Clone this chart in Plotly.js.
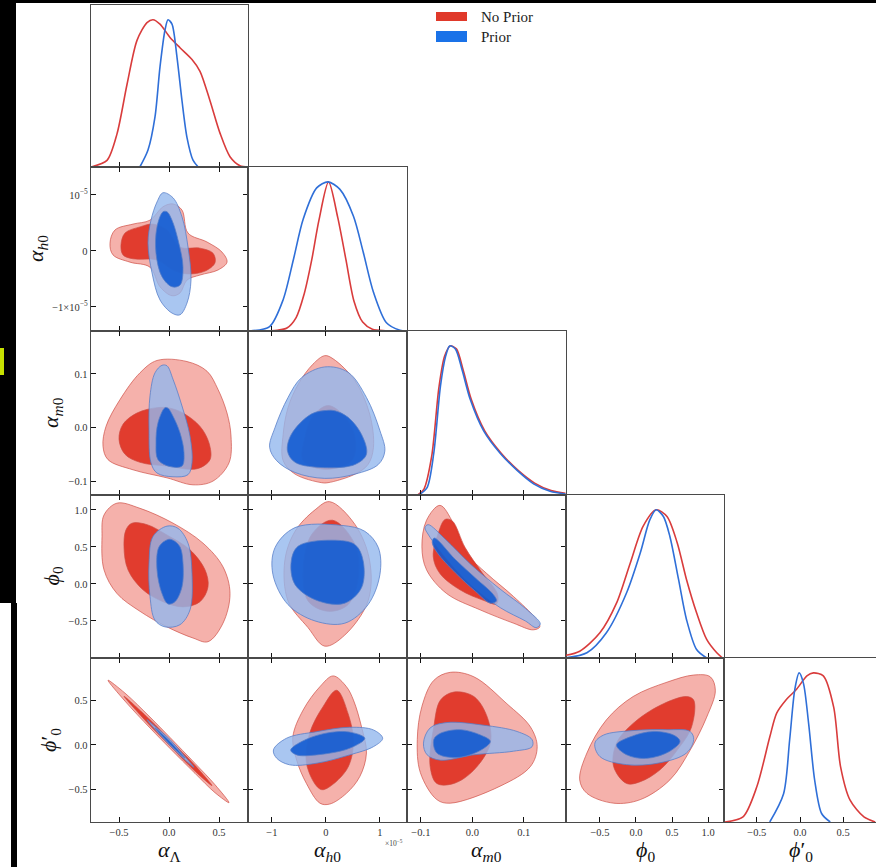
<!DOCTYPE html>
<html>
<head>
<meta charset="utf-8">
<script src="https://cdn.plot.ly/plotly-3.0.1.min.js"></script>
<style>html,body{margin:0;padding:0;background:#fff;}#plot{width:876px;height:867px;}</style>
</head>
<body>
<div id="plot"></div>
<script>
// ---------------- DATA ----------------
const paramLabels = ['<i>α</i><sub>Λ</sub>', '<i>α</i><sub><i>h</i>0</sub>', '<i>α</i><sub><i>m</i>0</sub>', '<i>ϕ</i><sub>0</sub>', '<i>ϕ</i>′<sub>0</sub>'];
const seriesNames = ['No Prior', 'Prior'];

const tickVals = [[-0.5,0,0.5],[-1,0,1],[-0.1,0,0.1],[-0.5,0,0.5,1.0],[-0.5,0,0.5]];
const xTickText = [['−0.5','0.0','0.5'],['−1','0','1'],['−0.1','0.0','0.1'],['−0.5','0.0','0.5','1.0'],['−0.5','0.0','0.5']];
const yTickText = [null,['−1×10<sup>−5</sup>','0','10<sup>−5</sup>'],['−0.1','0.0','0.1'],['−0.5','0.0','0.5','1.0'],['−0.5','0.0','0.5']];

// 1D marginals (normalised density)
const aL_noPrior_x = [-0.77,-0.62,-0.52,-0.42,-0.32,-0.22,-0.16,-0.09,0.01,0.11,0.23,0.31,0.41,0.51,0.61,0.71,0.79];
const aL_noPrior_p = [0.002,0.045,0.225,0.56,0.86,0.98,1.0,0.97,0.88,0.81,0.73,0.65,0.45,0.23,0.07,0.009,0.002];
const aL_prior_x = [-0.29,-0.21,-0.14,-0.09,-0.04,-0.01,0.03,0.08,0.13,0.18,0.24,0.29];
const aL_prior_p = [0.002,0.115,0.34,0.68,0.93,1.0,0.97,0.745,0.45,0.20,0.047,0.002];

const aH_noPrior_x = [-1.22,-0.9,-0.72,-0.55,-0.40,-0.26,-0.13,0.05,0.22,0.37,0.52,0.68,0.86,1.1,1.37];
const aH_noPrior_p = [0,0.005,0.02,0.09,0.25,0.48,0.74,1.0,0.76,0.48,0.2,0.06,0.012,0.002,0];
const aH_prior_x = [-1.41,-1.04,-0.79,-0.60,-0.42,-0.17,0.04,0.26,0.51,0.69,0.88,1.12,1.37,1.49];
const aH_prior_p = [0,0.03,0.21,0.48,0.75,0.96,1.0,0.95,0.77,0.53,0.26,0.055,0.005,0];

const aM_noPrior_x = [-0.106,-0.094,-0.079,-0.065,-0.054,-0.043,-0.031,-0.018,-0.002,0.024,0.056,0.089,0.121,0.153,0.181];
const aM_noPrior_p = [0,0.04,0.26,0.72,0.93,1.0,0.98,0.84,0.64,0.43,0.28,0.165,0.08,0.03,0.012];
const aM_prior_x = [-0.104,-0.088,-0.075,-0.062,-0.052,-0.044,-0.033,-0.020,-0.004,0.022,0.054,0.087,0.119,0.151,0.181];
const aM_prior_p = [0,0.05,0.28,0.73,0.93,1.0,0.98,0.84,0.64,0.43,0.28,0.165,0.075,0.025,0.007];

const p0_noPrior_x = [-0.99,-0.78,-0.50,-0.27,-0.08,0.10,0.28,0.43,0.57,0.70,0.84,0.98,1.12,1.20];
const p0_noPrior_p = [0.017,0.046,0.17,0.37,0.64,0.89,1.0,0.955,0.78,0.53,0.305,0.125,0.035,0];
const p0_prior_x = [-0.99,-0.68,-0.41,-0.13,0.06,0.19,0.28,0.38,0.47,0.59,0.70,0.84,0.98];
const p0_prior_p = [0,0.035,0.17,0.44,0.71,0.93,1.0,0.955,0.82,0.53,0.26,0.057,0];

const p1_noPrior_x = [-0.87,-0.66,-0.50,-0.35,-0.27,-0.16,-0.04,0.08,0.155,0.27,0.39,0.47,0.58,0.74,0.87];
const p1_noPrior_p = [0,0.034,0.236,0.57,0.73,0.82,0.89,0.98,1.0,0.98,0.77,0.37,0.146,0.034,0];
const p1_prior_x = [-0.35,-0.19,-0.12,-0.06,-0.01,0.04,0.10,0.17,0.25,0.35];
const p1_prior_p = [0,0.19,0.55,0.89,1.0,0.93,0.66,0.28,0.057,0];

// 2D contour outlines [x, y] (outer = 95%, inner = 68%)
const aH_aL_noPrior_outer = [[-0.59,0.14],[-0.54,0.375],[-0.36,0.48],[-0.19,0.55],[-0.06,0.79],[0.04,0.84],[0.13,0.73],[0.19,0.32],[0.38,0.16],[0.53,-0.02],[0.58,-0.2],[0.49,-0.34],[0.31,-0.43],[0.18,-0.52],[0.11,-0.75],[0.03,-0.80],[-0.09,-0.64],[-0.19,-0.29],[-0.39,-0.2],[-0.56,-0.07]];
const aH_aL_noPrior_inner = [[-0.48,0.11],[-0.44,0.32],[-0.29,0.43],[-0.16,0.48],[-0.02,0.375],[0.11,0.07],[0.31,0.05],[0.44,-0.04],[0.46,-0.21],[0.36,-0.36],[0.18,-0.41],[0.04,-0.34],[-0.12,-0.16],[-0.36,-0.14],[-0.46,-0.07]];
const aH_aL_prior_outer = [[-0.06,1.04],[-0.12,0.875],[-0.18,0.55],[-0.21,0.14],[-0.17,-0.39],[-0.09,-0.875],[0.03,-1.11],[0.11,-1.14],[0.18,-0.93],[0.22,-0.52],[0.19,0.07],[0.13,0.61],[0.04,0.95]];
const aH_aL_prior_inner = [[-0.06,0.70],[-0.12,0.43],[-0.13,-0.04],[-0.07,-0.46],[0.03,-0.64],[0.11,-0.61],[0.14,-0.29],[0.09,0.2],[0.03,0.55],[-0.02,0.70]];
const aM_aL_noPrior_outer = [[-0.12,0.125],[-0.29,0.102],[-0.49,0.052],[-0.63,0.002],[-0.66,-0.035],[-0.61,-0.06],[-0.36,-0.079],[-0.02,-0.094],[0.24,-0.107],[0.44,-0.100],[0.60,-0.066],[0.62,-0.016],[0.58,0.027],[0.49,0.071],[0.38,0.105],[0.18,0.123]];
const aM_aL_noPrior_inner = [[-0.12,0.037],[-0.32,0.027],[-0.46,0.006],[-0.50,-0.022],[-0.44,-0.050],[-0.29,-0.065],[-0.02,-0.072],[0.28,-0.077],[0.41,-0.060],[0.40,-0.029],[0.31,0.002],[0.14,0.027],[0.01,0.036]];
const aM_aL_prior_outer = [[-0.07,0.116],[-0.14,0.102],[-0.19,0.059],[-0.20,-0.004],[-0.18,-0.066],[-0.12,-0.085],[0.04,-0.092],[0.19,-0.088],[0.23,-0.066],[0.21,-0.016],[0.13,0.040],[0.04,0.090],[-0.02,0.115]];
const aM_aL_prior_inner = [[-0.04,0.037],[-0.11,0.009],[-0.13,-0.029],[-0.11,-0.060],[0.01,-0.073],[0.13,-0.072],[0.15,-0.047],[0.11,-0.010],[0.04,0.021],[-0.01,0.036]];
const p0_aL_noPrior_outer = [[-0.52,1.09],[-0.29,1.02],[0.04,0.82],[0.34,0.55],[0.54,0.23],[0.61,-0.13],[0.54,-0.53],[0.39,-0.78],[0.24,-0.73],[-0.02,-0.58],[-0.29,-0.37],[-0.52,-0.13],[-0.65,0.19],[-0.67,0.64],[-0.65,0.93]];
const p0_aL_noPrior_inner = [[-0.37,0.82],[-0.22,0.80],[-0.02,0.66],[0.21,0.46],[0.36,0.19],[0.39,-0.04],[0.31,-0.24],[0.14,-0.31],[-0.06,-0.24],[-0.26,-0.08],[-0.41,0.19],[-0.45,0.50],[-0.43,0.73]];
const p0_aL_prior_outer = [[-0.02,0.78],[-0.16,0.64],[-0.20,0.28],[-0.19,-0.17],[-0.14,-0.49],[-0.04,-0.58],[0.11,-0.55],[0.21,-0.35],[0.23,0.14],[0.19,0.55],[0.09,0.75]];
const p0_aL_prior_inner = [[-0.01,0.60],[-0.10,0.50],[-0.12,0.19],[-0.07,-0.13],[-0.01,-0.27],[0.06,-0.24],[0.13,-0.04],[0.14,0.28],[0.11,0.50],[0.04,0.59]];
const p1_aL_noPrior_outer = [[-0.61,0.722],[-0.44,0.578],[-0.19,0.311],[0.01,0.083],[0.26,-0.206],[0.46,-0.444],[0.60,-0.644],[0.46,-0.533],[0.26,-0.317],[0.01,-0.039],[-0.19,0.189],[-0.44,0.489]];
const p1_aL_noPrior_inner = [[-0.45,0.543],[-0.19,0.282],[0.01,0.056],[0.26,-0.228],[0.43,-0.454],[0.26,-0.294],[0.01,-0.011],[-0.19,0.216]];
const p1_aL_prior_outer = [[-0.22,0.282],[-0.11,0.18],[0.01,0.061],[0.13,-0.092],[0.25,-0.25],[0.13,-0.137],[0.01,-0.006],[-0.11,0.136]];
const p1_aL_prior_inner = [[-0.14,0.192],[0.01,0.039],[0.16,-0.148],[0.01,0.006]];
const aM_aH_noPrior_outer = [[-0.02,0.134],[0.135,0.128],[0.54,0.087],[0.81,0.025],[0.88,-0.037],[0.78,-0.069],[0.54,-0.087],[0.04,-0.103],[-0.08,-0.103],[-0.57,-0.087],[-0.79,-0.062],[-0.79,-0.013],[-0.70,0.037],[-0.51,0.081],[-0.24,0.118]];
const aM_aH_noPrior_inner = [[0.04,0.041],[-0.25,0.02],[-0.39,-0.019],[-0.42,-0.062],[-0.02,-0.078],[0.48,-0.062],[0.54,-0.019],[0.35,0.02]];
const aM_aH_prior_outer = [[-1.04,-0.037],[-0.94,0],[-0.70,0.056],[-0.45,0.093],[-0.02,0.113],[0.41,0.103],[0.75,0.056],[1.00,-0.006],[1.09,-0.044],[0.97,-0.069],[0.54,-0.087],[-0.02,-0.095],[-0.57,-0.084],[-0.91,-0.062]];
const aM_aH_prior_inner = [[0.04,0.032],[-0.27,0.025],[-0.64,-0.013],[-0.71,-0.044],[-0.57,-0.065],[-0.02,-0.075],[0.54,-0.069],[0.75,-0.050],[0.66,-0.013],[0.41,0.019],[0.17,0.031]];
const p0_aH_noPrior_outer = [[0.07,1.11],[0.54,0.80],[0.81,0.31],[0.78,-0.23],[0.35,-0.69],[-0.02,-0.84],[-0.33,-0.59],[-0.70,-0.23],[-0.76,0.31],[-0.57,0.71],[-0.20,1.00]];
const p0_aH_noPrior_inner = [[0.12,0.86],[0.54,0.53],[0.60,0.08],[0.41,-0.28],[0.04,-0.37],[-0.33,-0.23],[-0.42,0.22],[-0.26,0.67]];
const p0_aH_prior_outer = [[0.29,0.79],[-0.57,0.76],[-0.94,0.49],[-0.98,0.13],[-0.70,-0.28],[-0.20,-0.50],[0.35,-0.53],[0.78,-0.28],[1.00,0.13],[0.97,0.49],[0.72,0.71]];
const p0_aH_prior_inner = [[0.11,0.59],[-0.51,0.51],[-0.64,0.31],[-0.57,-0.01],[-0.14,-0.23],[0.35,-0.26],[0.66,-0.05],[0.69,0.31],[0.54,0.53]];
const p1_aH_noPrior_outer = [[0.135,0.77],[0.38,0.65],[0.51,0.50],[0.66,0.20],[0.75,-0.09],[0.63,-0.35],[0.38,-0.54],[0.07,-0.66],[-0.11,-0.65],[-0.36,-0.43],[-0.54,-0.17],[-0.61,0.09],[-0.42,0.39],[-0.11,0.65]];
const p1_aH_noPrior_inner = [[0.20,0.61],[0.41,0.35],[0.51,0.02],[0.38,-0.28],[-0.05,-0.50],[-0.17,-0.46],[-0.36,-0.20],[-0.30,0.13],[-0.05,0.43]];
const p1_aH_prior_outer = [[-0.97,-0.056],[-0.73,0.074],[-0.17,0.148],[0.44,0.197],[0.88,0.167],[1.05,0.074],[0.88,-0.019],[0.44,-0.111],[-0.17,-0.204],[-0.67,-0.222],[-0.91,-0.148]];
const p1_aH_prior_inner = [[-0.65,-0.056],[-0.24,0.092],[0.38,0.148],[0.72,0.074],[0.44,-0.037],[-0.17,-0.111],[-0.54,-0.111]];
const p0_aM_noPrior_outer = [[-0.063,1.06],[-0.089,0.86],[-0.098,0.50],[-0.089,0.19],[-0.050,-0.13],[0.015,-0.35],[0.080,-0.53],[0.118,-0.62],[0.131,-0.58],[0.122,-0.46],[0.080,-0.17],[0.028,0.14],[-0.011,0.41],[-0.037,0.82]];
const p0_aM_noPrior_inner = [[-0.053,0.87],[-0.066,0.69],[-0.076,0.37],[-0.063,0.14],[-0.024,-0.08],[0.021,-0.22],[0.047,-0.27],[0.049,-0.14],[0.019,0.15],[-0.014,0.49],[-0.039,0.85]];
const p0_aM_prior_outer = [[-0.086,0.80],[-0.052,0.60],[-0.004,0.27],[0.054,-0.07],[0.103,-0.33],[0.132,-0.54],[0.124,-0.59],[0.103,-0.50],[0.054,-0.32],[-0.004,-0.01],[-0.052,0.35],[-0.085,0.66],[-0.092,0.76]];
const p0_aM_prior_inner = [[-0.074,0.62],[-0.033,0.33],[0.006,0.08],[0.041,-0.145],[0.047,-0.23],[0.035,-0.26],[0.006,-0.10],[-0.033,0.15],[-0.068,0.42],[-0.078,0.56]];
const p1_aM_noPrior_outer = [[-0.043,0.81],[0.003,0.76],[0.067,0.46],[0.113,0.20],[0.126,-0.02],[0.113,-0.24],[0.054,-0.46],[-0.043,-0.65],[-0.069,-0.61],[-0.101,-0.31],[-0.107,0.06],[-0.098,0.43],[-0.075,0.72]];
const p1_aM_noPrior_inner = [[-0.036,0.59],[-0.062,0.50],[-0.075,0.20],[-0.082,-0.24],[-0.069,-0.43],[-0.036,-0.43],[0.003,-0.28],[0.035,0.02],[0.029,0.31],[0.003,0.54]];
const p1_aM_prior_outer = [[-0.095,0.02],[-0.082,0.19],[-0.049,0.25],[0.022,0.22],[0.087,0.15],[0.116,0.06],[0.116,-0.02],[0.080,-0.07],[0.003,-0.11],[-0.062,-0.17],[-0.088,-0.11]];
const p1_aM_prior_inner = [[-0.075,0.06],[-0.062,0.13],[-0.023,0.17],[0.016,0.11],[0.035,0.04],[0.016,-0.06],[-0.030,-0.14],[-0.069,-0.09]];
const p1_p0_noPrior_outer = [[0.80,0.78],[1.03,0.76],[1.10,0.61],[0.98,0.31],[0.75,-0.06],[0.47,-0.39],[0.06,-0.61],[-0.31,-0.65],[-0.68,-0.54],[-0.78,-0.39],[-0.68,-0.09],[-0.41,0.28],[-0.04,0.54],[0.43,0.70]];
const p1_p0_noPrior_inner = [[0.70,0.54],[0.80,0.50],[0.77,0.20],[0.57,-0.06],[0.33,-0.28],[0.06,-0.41],[-0.13,-0.43],[-0.31,-0.24],[-0.27,0.02],[-0.04,0.24],[0.33,0.44]];
const p1_p0_prior_outer = [[-0.57,0.02],[-0.45,0.11],[-0.04,0.16],[0.43,0.17],[0.75,0.15],[0.80,0.06],[0.70,-0.09],[0.33,-0.20],[-0.13,-0.22],[-0.50,-0.13]];
const p1_p0_prior_inner = [[-0.27,0.0],[-0.08,0.09],[0.24,0.15],[0.52,0.11],[0.61,0.04],[0.47,-0.07],[0.15,-0.15],[-0.13,-0.11]];

// ---------------- STRUCTURE ----------------
const diagSets = [
  {c:0, nx:aL_noPrior_x, np:aL_noPrior_p, px:aL_prior_x, pp:aL_prior_p},
  {c:1, nx:aH_noPrior_x, np:aH_noPrior_p, px:aH_prior_x, pp:aH_prior_p},
  {c:2, nx:aM_noPrior_x, np:aM_noPrior_p, px:aM_prior_x, pp:aM_prior_p},
  {c:3, nx:p0_noPrior_x, np:p0_noPrior_p, px:p0_prior_x, pp:p0_prior_p},
  {c:4, nx:p1_noPrior_x, np:p1_noPrior_p, px:p1_prior_x, pp:p1_prior_p}
];
const contourSets = [
  {r:1,c:0, no:[aH_aL_noPrior_outer,aH_aL_noPrior_inner], pr:[aH_aL_prior_outer,aH_aL_prior_inner]},
  {r:2,c:0, no:[aM_aL_noPrior_outer,aM_aL_noPrior_inner], pr:[aM_aL_prior_outer,aM_aL_prior_inner]},
  {r:3,c:0, no:[p0_aL_noPrior_outer,p0_aL_noPrior_inner], pr:[p0_aL_prior_outer,p0_aL_prior_inner]},
  {r:4,c:0, no:[p1_aL_noPrior_outer,p1_aL_noPrior_inner], pr:[p1_aL_prior_outer,p1_aL_prior_inner]},
  {r:2,c:1, no:[aM_aH_noPrior_outer,aM_aH_noPrior_inner], pr:[aM_aH_prior_outer,aM_aH_prior_inner]},
  {r:3,c:1, no:[p0_aH_noPrior_outer,p0_aH_noPrior_inner], pr:[p0_aH_prior_outer,p0_aH_prior_inner]},
  {r:4,c:1, no:[p1_aH_noPrior_outer,p1_aH_noPrior_inner], pr:[p1_aH_prior_outer,p1_aH_prior_inner]},
  {r:3,c:2, no:[p0_aM_noPrior_outer,p0_aM_noPrior_inner], pr:[p0_aM_prior_outer,p0_aM_prior_inner]},
  {r:4,c:2, no:[p1_aM_noPrior_outer,p1_aM_noPrior_inner], pr:[p1_aM_prior_outer,p1_aM_prior_inner]},
  {r:4,c:3, no:[p1_p0_noPrior_outer,p1_p0_noPrior_inner], pr:[p1_p0_prior_outer,p1_p0_prior_inner]}
];

// ---------------- LAYOUT GEOMETRY ----------------
const W = 876, H = 867, ML = 91, MR = 0, MT = 5, MB = 45;
const PW = W - ML - MR, PH = H - MT - MB;
const colPx = [91,248,407,566,724,876];
const rowPx = [5,167,331,495,658,822];
const xRanges = [[-0.78,0.79],[-1.44,1.5],[-0.127,0.182],[-0.97,1.22],[-0.88,0.88]];
const yRanges = [null,[-1.43,1.5],[-0.126,0.18],[-1.0,1.2],[-0.86,0.97]];
const px2x = p => (p - ML) / PW;
const px2y = p => (H - MB - p) / PH;

const C = {
  redOuter:'rgba(232,70,55,0.42)', redInner:'rgba(222,50,35,0.92)', redEdge:'rgba(205,75,65,0.75)',
  blueOuter:'rgba(148,184,237,0.8)', blueInner:'rgba(15,90,210,0.88)', blueEdge:'rgba(85,125,200,0.85)',
  redLine:'#d93c3c', blueLine:'#2f6fd8', frame:'#4a4a4a'
};
const tickFont = {family:'"Liberation Serif","DejaVu Serif",serif', size:10.5, color:'#333'};

const axisIdx = {};
let k = 0;
for (let r = 0; r < 5; r++) for (let c = 0; c <= r; c++) { k++; axisIdx[r+','+c] = k; }
const an = (n, p) => p + (n === 1 ? '' : n);

const layout = {
  width: W, height: H, autosize:false,
  margin:{l:ML, r:MR, t:MT, b:MB, pad:0},
  paper_bgcolor:'#fff', plot_bgcolor:'rgba(0,0,0,0)',
  showlegend:false, shapes:[], annotations:[],
  font:{family:'"Liberation Serif","DejaVu Serif",serif', color:'#222'}
};

for (let r = 0; r < 5; r++) for (let c = 0; c <= r; c++) {
  const n = axisIdx[r+','+c];
  const diag = r === c;
  layout[an(n,'xaxis')] = {
    domain:[px2x(colPx[c]), px2x(colPx[c+1])], anchor:an(n,'y'), range:xRanges[c],
    tickmode:'array', tickvals:tickVals[c], ticktext:xTickText[c], showticklabels:r===4,
    ticks:'inside', ticklen:5, tickwidth:1, tickcolor:'#111',
    showline:true, linecolor:C.frame, linewidth:1.3, mirror: diag ? true : 'ticks',
    showgrid:false, zeroline:false, fixedrange:true, tickfont:tickFont
  };
  layout[an(n,'yaxis')] = diag ? {
    domain:[px2y(rowPx[r+1]), px2y(rowPx[r])], anchor:an(n,'x'), range:[0,1.1],
    showticklabels:false, ticks:'', showline:true, linecolor:C.frame, linewidth:1.3,
    mirror: r === 4 ? false : true, showgrid:false, zeroline:false, fixedrange:true
  } : {
    domain:[px2y(rowPx[r+1]), px2y(rowPx[r])], anchor:an(n,'x'), range:yRanges[r],
    tickmode:'array', tickvals:tickVals[r], ticktext:yTickText[r], showticklabels:c===0,
    ticks:'inside', ticklen:5, tickwidth:1, tickcolor:'#111',
    showline:true, linecolor:C.frame, linewidth:1.3, mirror:'ticks',
    showgrid:false, zeroline:false, fixedrange:true, tickfont:tickFont
  };
}

// ---------------- TRACES ----------------
const traces = [];
function polyTrace(pts, n, fill, edge) {
  const xs = pts.map(p => p[0]); xs.push(pts[0][0]);
  const ys = pts.map(p => p[1]); ys.push(pts[0][1]);
  return {type:'scatter', mode:'lines', x:xs, y:ys, xaxis:an(n,'x'), yaxis:an(n,'y'),
    fill:'toself', fillcolor:fill, line:{color:edge, width:0.9, shape:'spline', smoothing:1},
    hoverinfo:'skip', showlegend:false};
}
contourSets.forEach(s => {
  const n = axisIdx[s.r+','+s.c];
  traces.push(polyTrace(s.no[0], n, C.redOuter, C.redEdge));
  traces.push(polyTrace(s.no[1], n, C.redInner, C.redEdge));
  traces.push(polyTrace(s.pr[0], n, C.blueOuter, C.blueEdge));
  traces.push(polyTrace(s.pr[1], n, C.blueInner, C.blueEdge));
});
diagSets.forEach(d => {
  const n = axisIdx[d.c+','+d.c];
  traces.push({type:'scatter', mode:'lines', x:d.nx, y:d.np, xaxis:an(n,'x'), yaxis:an(n,'y'),
    line:{color:C.redLine, width:1.6, shape:'spline', smoothing:0.8}, hoverinfo:'skip', name:seriesNames[0]});
  traces.push({type:'scatter', mode:'lines', x:d.px, y:d.pp, xaxis:an(n,'x'), yaxis:an(n,'y'),
    line:{color:C.blueLine, width:1.6, shape:'spline', smoothing:0.8}, hoverinfo:'skip', name:seriesNames[1]});
});

// ---------------- LABELS ----------------
const titleFont = {family:'"Liberation Serif","DejaVu Serif",serif', size:22, color:'#111'};
const bottomCenters = [169.5, 327, 486.5, 645, 801];
paramLabels.forEach((t, i) => {
  layout.annotations.push({xref:'paper', yref:'paper', x:px2x(bottomCenters[i]), y:px2y(851),
    xanchor:'center', yanchor:'middle', text:t, showarrow:false, font:titleFont});
});
const leftX = [null, 37, 52, 52, 50];
for (let r = 1; r < 5; r++) {
  layout.annotations.push({xref:'paper', yref:'paper', x:px2x(leftX[r]), y:px2y((rowPx[r]+rowPx[r+1])/2),
    xanchor:'center', yanchor:'middle', textangle:-90, text:paramLabels[r], showarrow:false, font:titleFont});
}
layout.annotations.push({xref:'paper', yref:'paper', x:px2x(394), y:px2y(843), xanchor:'center', yanchor:'middle',
  text:'×10<sup>−5</sup>', showarrow:false, font:{family:'"Liberation Serif",serif', size:7.5, color:'#444'}});

const legendItems = [{name:seriesNames[0], color:'#e0392a', y0:12, y1:21, ty:16.5},
                     {name:seriesNames[1], color:'#1a72e8', y0:31, y1:42, ty:36.5}];
legendItems.forEach(it => {
  layout.shapes.push({type:'rect', xref:'paper', yref:'paper', x0:px2x(436), x1:px2x(467), y0:px2y(it.y1), y1:px2y(it.y0),
    fillcolor:it.color, line:{width:0}});
  layout.annotations.push({xref:'paper', yref:'paper', x:px2x(479), y:px2y(it.ty), xanchor:'left', yanchor:'middle',
    text:it.name, showarrow:false, font:{family:'"Liberation Serif","DejaVu Serif",serif', size:15, color:'#222'}});
});

const blk = (x0,x1,y0,y1,col) => layout.shapes.push({type:'rect', xref:'paper', yref:'paper', layer:'above',
  x0:px2x(x0), x1:px2x(x1), y0:px2y(y1), y1:px2y(y0), fillcolor:col, line:{width:0}});
blk(0, 876, 0, 3, '#000');
blk(0, 16, 0, 603, '#000');
blk(11, 17, 603, 867, '#000');
blk(0, 4, 348, 375, '#c6e000');

Plotly.newPlot('plot', traces, layout, {staticPlot:true, displayModeBar:false});
</script>
</body>
</html>
